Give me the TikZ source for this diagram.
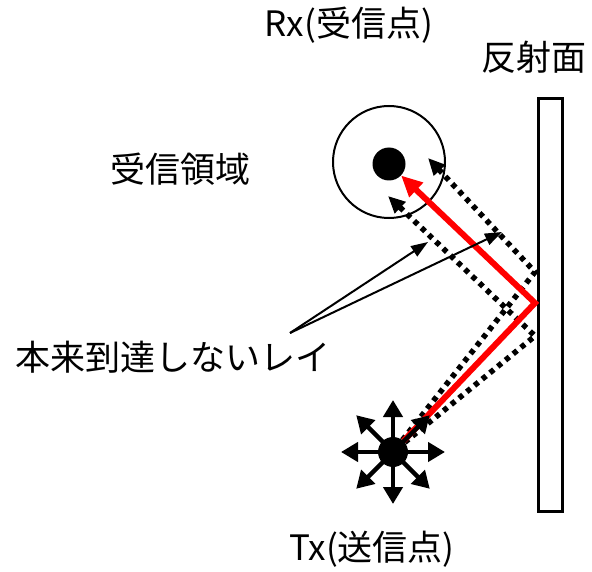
\documentclass[tikz,border=0pt]{standalone}
\usepackage{fontspec}
\setmainfont{Noto Sans CJK JP}
\usetikzlibrary{arrows.meta}
\begin{document}
\begin{tikzpicture}[x=1pt,y=-1pt,
  lbl/.style={font=\fontsize{35}{42}\selectfont, inner sep=0pt},
  rayred/.style={red, line width=6pt, -{Triangle[length=21pt,width=19pt]}},
  dotray/.style={line width=5.5pt, dash pattern=on 5pt off 5pt, -{Triangle[length=17pt,width=15pt]}},
  ptr/.style={line width=2pt, -{Triangle[length=17pt,width=12pt]}},
  burst/.style={line width=4.5pt, -{Triangle[length=17pt,width=19pt]}},
  wallbox/.style={draw, line width=3pt},
  area/.style={circle, draw, line width=2pt, minimum size=112pt, inner sep=0pt},
  bigdot/.style={circle, fill=black, minimum size=33pt, inner sep=0pt},
  txdot/.style={circle, fill=black, minimum size=30pt, inner sep=0pt}]
\useasboundingbox (0,0) rectangle (592,572);
% wall
\node[wallbox, minimum width=24pt, minimum height=413pt, inner sep=0pt, anchor=north west] (wall) at (537,97) {};
% receive area
\node[area] (rxarea) at (389,162) {};
\node[bigdot] (rx) at (389,164) {};
\node[txdot] (tx) at (393,452) {};
% reflection points and tips
\coordinate (rA) at (535,272);
\coordinate (rB) at (535,336);
\coordinate (rR) at (535,303);
\coordinate (tipA) at (428,158);
\coordinate (tipB) at (388,196);
% dotted rays
\draw[dotray] (tx) -- (rA) -- (tipA);
\draw[dotray] (tx) -- (rB) -- (tipB);
% red ray
\draw[rayred] (tx) -- (rR) -- (rx);
% burst
\foreach \a in {0,45,...,315} \draw[burst] (tx.center) -- ++(\a:52);
% labels
\node[lbl] (rxlbl) at (349,25) {Rx(受信点)};
\node[lbl] (walllbl) at (534,57) {反射面};
\node[lbl] (arealbl) at (180,169) {受信領域};
\node[lbl] (raylbl) at (173,357) {本来到達しないレイ};
\node[lbl] (txlbl) at (372,549) {Tx(送信点)};
% pointer arrows
\coordinate (psrc) at (290,333);
\coordinate (p1) at (428,242);
\coordinate (p2) at (502,232);
\draw[ptr] (psrc) -- (p1);
\draw[ptr] (psrc) -- (p2);
\end{tikzpicture}
\end{document}
